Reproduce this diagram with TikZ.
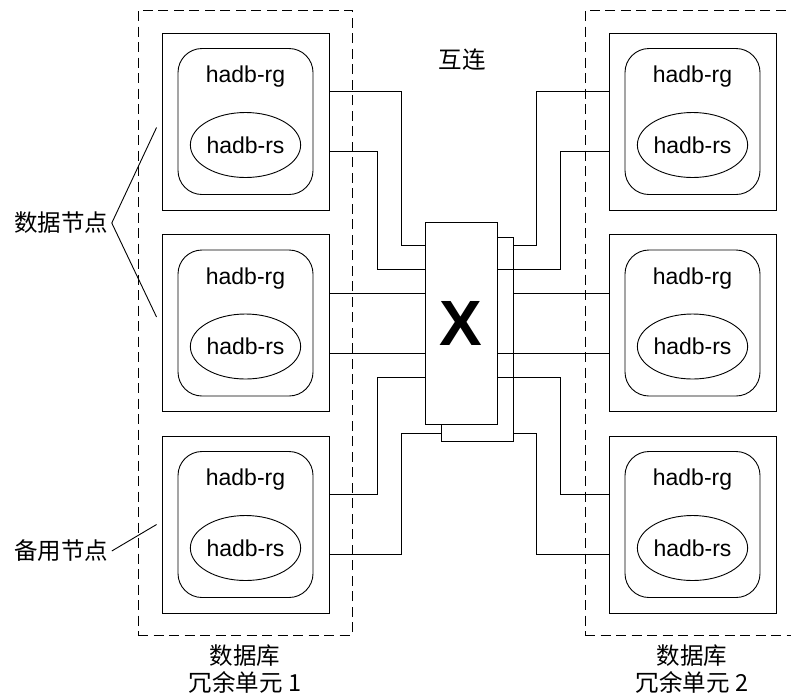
\documentclass[tikz,border=0pt]{standalone}
\usepackage{fontspec}
\setmainfont{Liberation Sans}
\newfontfamily\cjk{Noto Sans CJK SC}
\usetikzlibrary{shapes.geometric,positioning,calc}

\tikzset{
  unitbox/.style={draw, dash pattern=on 10pt off 5.5pt, minimum width=214pt, minimum height=625pt, inner sep=0pt},
  hostbox/.style={draw, minimum width=167pt, minimum height=177pt, inner sep=0pt},
  rgbox/.style={draw, rounded corners=24pt, minimum width=135pt, minimum height=146pt, inner sep=0pt},
  rsnode/.style={draw, ellipse, minimum width=103pt, minimum height=65pt, inner sep=0pt, font=\fontsize{23}{27}\selectfont},
  rgtext/.style={font=\fontsize{23}{27}\selectfont},
  cjklabel/.style={font=\cjk\fontsize{23.5}{27}\selectfont},
  switchbox/.style={draw, fill=white, minimum width=72pt, inner sep=0pt},
  wire/.style={line width=0.9pt},
}

\begin{document}
\begin{tikzpicture}[x=1pt, y=-1pt, line width=0.9pt]
      \useasboundingbox (0,0) rectangle (791,694);
      % Redundancy units
      \node[unitbox] (ru1) at (245,322.5) {};
      \node[unitbox] (ru2) at (692,322.5) {};
      \node[cjklabel, align=center] (ru1lbl) at (245,669) {数据库\\冗余单元 1};
      \node[cjklabel, align=center] (ru2lbl) at (692,669) {数据库\\冗余单元 2};
      \node[cjklabel] (ic) at (462,60) {互连};
      % Unit 1 hosts
      \node[hostbox] (n1) at (245.5,121.5) {};
      \node[rgbox] (g1) at (n1) {};
      \node[rgtext] (t1) at ($(n1)+(0,-44.5)$) {hadb-rg};
      \node[rsnode] (s1) at ($(n1)+(0,23.5)$) {hadb-rs};
      \node[hostbox] (n2) at (245.5,323) {};
      \node[rgbox] (g2) at (n2) {};
      \node[rgtext] (t2) at ($(n2)+(0,-44.5)$) {hadb-rg};
      \node[rsnode] (s2) at ($(n2)+(0,23.5)$) {hadb-rs};
      \node[hostbox] (n3) at (245.5,524.5) {};
      \node[rgbox] (g3) at (n3) {};
      \node[rgtext] (t3) at ($(n3)+(0,-44.5)$) {hadb-rg};
      \node[rsnode] (s3) at ($(n3)+(0,23.5)$) {hadb-rs};
      % Unit 2 hosts
      \node[hostbox] (m1) at (692.5,121.5) {};
      \node[rgbox] (h1) at (m1) {};
      \node[rgtext] (u1) at ($(m1)+(0,-44.5)$) {hadb-rg};
      \node[rsnode] (r1) at ($(m1)+(0,23.5)$) {hadb-rs};
      \node[hostbox] (m2) at (692.5,323) {};
      \node[rgbox] (h2) at (m2) {};
      \node[rgtext] (u2) at ($(m2)+(0,-44.5)$) {hadb-rg};
      \node[rsnode] (r2) at ($(m2)+(0,23.5)$) {hadb-rs};
      \node[hostbox] (m3) at (692.5,524.5) {};
      \node[rgbox] (h3) at (m3) {};
      \node[rgtext] (u3) at ($(m3)+(0,-44.5)$) {hadb-rg};
      \node[rsnode] (r3) at ($(m3)+(0,23.5)$) {hadb-rs};
      % Switch
      \node[switchbox, minimum height=204pt] (swb) at (477,339) {};
      \node[switchbox, minimum height=202pt, font=\fontsize{64}{64}\selectfont\bfseries] (sw) at (461,323) {X};
      % Wires, unit 1
      \draw[wire] ([yshift=30pt]n1.east) -- ++(72,0) |- ([yshift=78pt]sw.west);
      \draw[wire] ([yshift=-30pt]n1.east) -- ++(48,0) |- ([yshift=54pt]sw.west);
      \draw[wire] ([yshift=30pt]n2.east) -- ([yshift=30pt]sw.west);
      \draw[wire] ([yshift=-30pt]n2.east) -- ([yshift=-30pt]sw.west);
      \draw[wire] ([yshift=30pt]n3.east) -- ++(48,0) |- ([yshift=-54pt]sw.west);
      \draw[wire] ([yshift=-30pt]n3.east) -- ++(72,0) |- ([yshift=-94pt]swb.west);
      % Wires, unit 2
      \draw[wire] ([yshift=30pt]m1.west) -- ++(-72,0) |- ([yshift=94pt]swb.east);
      \draw[wire] ([yshift=-30pt]m1.west) -- ++(-48,0) |- ([yshift=54pt]sw.east);
      \draw[wire] ([yshift=30pt]m2.west) -- ([yshift=46pt]swb.east);
      \draw[wire] ([yshift=-30pt]m2.west) -- ([yshift=-30pt]sw.east);
      \draw[wire] ([yshift=30pt]m3.west) -- ++(-48,0) |- ([yshift=-54pt]sw.east);
      \draw[wire] ([yshift=-30pt]m3.west) -- ++(-72,0) |- ([yshift=-94pt]swb.east);
      % Node labels
      \node[cjklabel] (dn) at (61,223) {数据节点};
      \draw[wire] (dn.east) -- ([xshift=-5pt,yshift=-6pt]n1.west);
      \draw[wire] (dn.east) -- ([xshift=-5pt,yshift=6pt]n2.west);
      \node[cjklabel] (sn) at (61,551) {备用节点};
      \draw[wire] (sn.east) -- ([xshift=-5pt]n3.west);
\end{tikzpicture}
\end{document}
